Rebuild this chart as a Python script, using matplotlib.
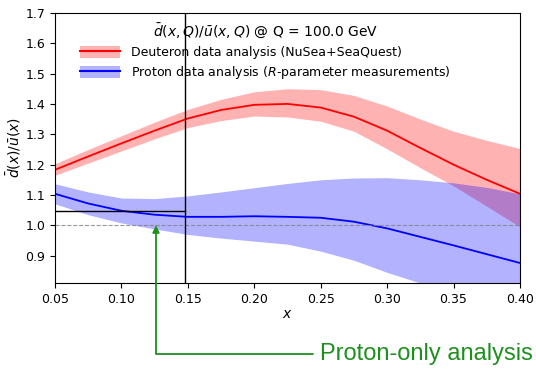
import matplotlib.pyplot as plt
from matplotlib.lines import Line2D
from matplotlib.patches import Patch

# x grid
x = [0.05, 0.075, 0.10, 0.125, 0.15, 0.175, 0.20, 0.225, 0.25, 0.275, 0.30, 0.325, 0.35, 0.375, 0.40]

# Deuteron analysis (NuSea+SeaQuest)
deut_mid = [1.183, 1.227, 1.270, 1.312, 1.352, 1.380, 1.397, 1.400, 1.388, 1.358, 1.312, 1.255, 1.200, 1.150, 1.104]
deut_hi = [1.203, 1.250, 1.295, 1.340, 1.382, 1.415, 1.440, 1.450, 1.447, 1.428, 1.393, 1.350, 1.310, 1.280, 1.253]
deut_lo = [1.165, 1.205, 1.245, 1.285, 1.322, 1.345, 1.360, 1.357, 1.343, 1.310, 1.252, 1.190, 1.130, 1.063, 0.995]

# Proton analysis (R-parameter measurements)
prot_mid = [1.104, 1.072, 1.048, 1.035, 1.028, 1.028, 1.030, 1.028, 1.025, 1.012, 0.990, 0.962, 0.934, 0.905, 0.876]
prot_hi = [1.137, 1.110, 1.090, 1.088, 1.097, 1.110, 1.124, 1.138, 1.150, 1.156, 1.157, 1.150, 1.140, 1.125, 1.104]
prot_lo = [1.071, 1.035, 1.008, 0.988, 0.970, 0.958, 0.948, 0.938, 0.915, 0.885, 0.845, 0.810, 0.770, 0.720, 0.670]

x_cut = 0.148
y_cut = 1.048
arrow_x = 0.126

fs = 9

fig = plt.figure(figsize=(5.36, 3.69), dpi=100)
ax = fig.add_axes([0.1026, 0.233, 0.8675, 0.7322])

# Bands and central lines
ax.fill_between(x, deut_lo, deut_hi, color="red", alpha=0.3, lw=0)
ax.plot(x, deut_mid, color="red", lw=1.3)
ax.fill_between(x, prot_lo, prot_hi, color="blue", alpha=0.3, lw=0)
ax.plot(x, prot_mid, color="blue", lw=1.3)

# Reference line and cut markers
ax.axhline(1.0, color="gray", ls="--", lw=0.8, alpha=0.8)
ax.axvline(x_cut, color="black", lw=1.0)
ax.plot([0.05, x_cut], [y_cut, y_cut], color="black", lw=1.0)

ax.set_xlim(0.05, 0.40)
ax.set_ylim(0.81, 1.70)
ax.set_xticks([0.05, 0.10, 0.15, 0.20, 0.25, 0.30, 0.35, 0.40])
ax.set_yticks([0.9, 1.0, 1.1, 1.2, 1.3, 1.4, 1.5, 1.6, 1.7])
ax.tick_params(labelsize=fs)
ax.set_xlabel("$x$", fontsize=fs + 1, labelpad=1)
ax.set_ylabel(r"$\bar{d}(x)/\bar{u}(x)$", fontsize=fs + 1, labelpad=2)

# Legend: band + line combined
h_deut = (Patch(color="red", alpha=0.3, lw=0), Line2D([], [], color="red", lw=1.5))
h_prot = (Patch(color="blue", alpha=0.3, lw=0), Line2D([], [], color="blue", lw=1.5))
leg = ax.legend(
    [h_deut, h_prot],
    ["Deuteron data analysis (NuSea+SeaQuest)", "Proton data analysis ($R$-parameter measurements)"],
    title=r"$\bar{d}(x,Q)/\bar{u}(x,Q)$ @ Q = 100.0 GeV",
    loc="upper left",
    bbox_to_anchor=(0.03, 1.01),
    frameon=False,
    fontsize=9,
    title_fontsize=10,
    handlelength=3.2,
    handleheight=1.1,
    labelspacing=0.4,
    handletextpad=0.9,
)

# Green callout below the axes
ax.annotate(
    "Proton-only analysis",
    xy=(arrow_x, 1.0),
    xycoords="data",
    xytext=(0.597, 0.040),
    textcoords="figure fraction",
    fontsize=17,
    family="Liberation Sans",
    color="#1f8f1f",
    va="center",
    ha="left",
    arrowprops=dict(
        arrowstyle="-|>",
        color="#1f8f1f",
        lw=1.3,
        shrinkA=3,
        shrinkB=0,
        connectionstyle="angle,angleA=0,angleB=90,rad=0",
        mutation_scale=10,
    ),
    annotation_clip=False,
)

fig.savefig("out.png", dpi=100)
